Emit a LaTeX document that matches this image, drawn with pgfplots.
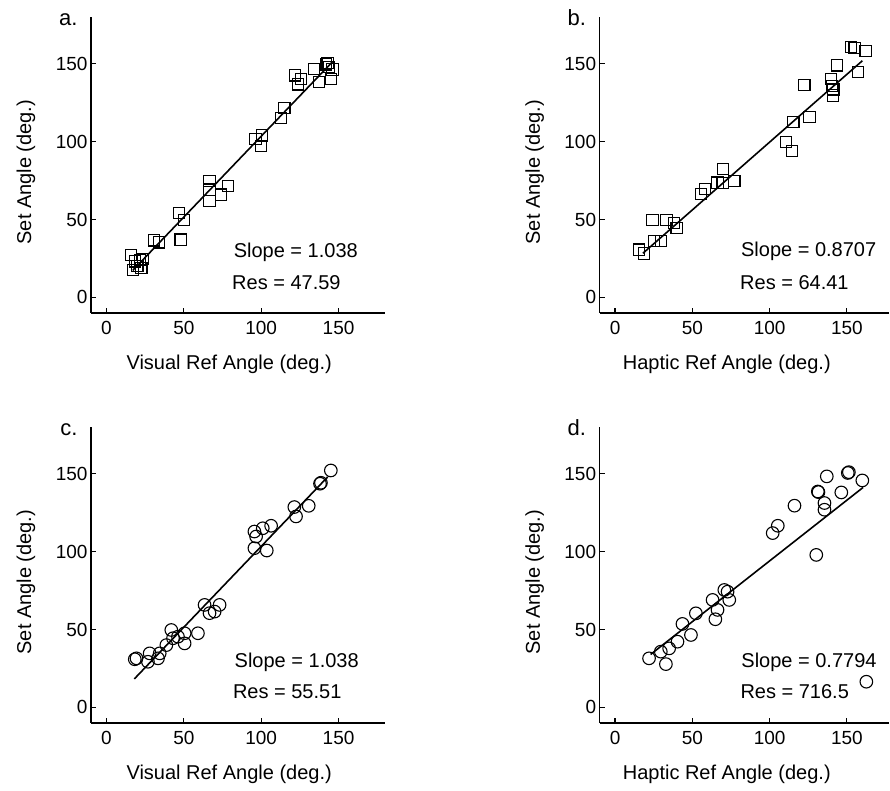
\documentclass[border=0pt]{standalone}
\usepackage{pgfplots}
\pgfplotsset{compat=1.18}
\usepackage{fontspec}
\setmainfont{Liberation Sans}

\tikzset{
 ann/.style={anchor=base west, font=\fontsize{20bp}{23bp}\selectfont},
 plab/.style={anchor=base east, font=\fontsize{22bp}{25bp}\selectfont, xshift=-10bp, yshift=-9bp},
}
\pgfplotsset{
 panel/.style={
  scale only axis, width=294bp, height=296bp,
  xmin=-10, xmax=180, ymin=-10, ymax=180,
  axis x line=bottom, axis y line=left,
  axis line style={-, line width=1.4bp},
  tick align=inside, major tick length=5bp,
  tick style={line width=1.2bp, black},
  xtick={0,50,100,150}, ytick={0,50,100,150},
  ticklabel style={font=\fontsize{19bp}{22bp}\selectfont},
  xticklabel style={yshift=-5bp},
  /pgf/number format/assume math mode=true,
  label style={font=\fontsize{20bp}{23bp}\selectfont},
  xlabel style={at={(axis description cs:0.47,0)}, anchor=center, yshift=-51bp},
  ylabel style={at={(axis description cs:0,0.476)}, anchor=center, rotate=0, yshift=65bp},
  ylabel={Set Angle (deg.)},
  clip=false,
 },
 rpanel/.style={panel, width=289bp, xmax=177,
  xlabel style={at={(axis description cs:0.44,0)}}},
 sq/.style={only marks, mark=square, mark size=5.6bp, mark options={line width=1.1bp, black, fill=none}},
 ci/.style={only marks, mark=o, mark size=6.3bp, mark options={line width=1.1bp, black, fill=none}},
 fit/.style={no marks, line width=1.6bp, black},
}

\begin{document}
\begin{tikzpicture}
\path[use as bounding box] (0,0) rectangle (890bp,791bp);

% ---------- a ----------
\begin{axis}[panel, at={(91bp,478bp)}, anchor=south west,
  xlabel={Visual Ref Angle (deg.)}]
\addplot[sq] coordinates {
(16,27.4) (17.2,17.8) (18.3,23.1) (20,20) (21.5,24.2) (23.6,24.7) (22.6,18.9)
(30.7,36.6) (33.9,35.3) (47.9,37.1) (46.9,54.2) (49.9,49.5)
(66.6,74.6) (66.6,69.2) (66.6,61.7) (74.1,66) (78.4,71.4)
(96.3,101.8) (99.9,97) (100.6,103.9)
(112.8,115.3) (115,121.7)
(122,142.5) (123.6,136.7) (125.7,140)
(134.3,146.8) (137.5,138.2) (141.8,149.6) (142.9,150.6) (145,140) (146.1,146.3) (144,148)
};
\addplot[fit] coordinates {(17,17.35) (146,151.2)};
\node[ann] at (axis cs:80,25.3) {Slope = 1.038};
\node[ann] at (axis cs:79,5.4) {Res = 47.59};
\node[plab] at (rel axis cs:0,1) {a.};
\end{axis}

% ---------- b ----------
\begin{axis}[rpanel, at={(599.6bp,478bp)}, anchor=south west,
  xlabel={Haptic Ref Angle (deg.)}]
\addplot[sq] coordinates {
(15.6,30.7) (18.8,28.2) (24.2,49.6) (25.3,36.1) (29.6,36.1) (33.3,49.6) (38.3,47.9) (39.8,44.7)
(55.5,66.2) (58.4,69.8) (66.3,73.7) (69.6,73.3) (70,82.3) (77.2,74.8)
(110.7,99.9) (114.5,94.1) (115.4,112.4) (125.8,115.6) (122.5,136.5)
(139.8,140.3) (140.5,135.6) (140.9,129.6) (141.3,133.5) (143.7,148.9)
(152.8,160.8) (155,160.1) (162.1,158) (157.1,144.6)
};
\addplot[fit] coordinates {(18,28.3) (160,151.9)};
\node[ann] at (axis cs:79.3,26.4) {Slope = 0.8707};
\node[ann] at (axis cs:78.7,5.4) {Res = 64.41};
\node[plab] at (rel axis cs:0,1) {b.};
\end{axis}

% ---------- c ----------
\begin{axis}[panel, at={(91bp,68bp)}, anchor=south west,
  xlabel={Visual Ref Angle (deg.)}]
\addplot[ci] coordinates {
(18.3,30.9) (19.4,31.5) (26.8,29.3) (27.9,34.7) (33.3,31.5) (34.4,34.7) (38.7,40)
(41.9,49.7) (43,44.4) (46.2,45.4) (50.5,41.1) (50.5,47.6) (59.1,47.6)
(63.4,65.8) (66.6,60.5) (69.9,61.5) (73.1,65.8)
(95.6,112.9) (96.7,109.7) (95.6,102.2) (101,115) (103.6,100.7) (106.4,116.6)
(121.4,128.6) (122.5,122.6) (130.7,129.4) (138,143.6) (138.6,144.2) (145,152.1)
};
\addplot[fit] coordinates {(18,18.3) (143,148.0)};
\node[ann] at (axis cs:80.6,25.5) {Slope = 1.038};
\node[ann] at (axis cs:79.5,5.8) {Res = 55.51};
\node[plab] at (rel axis cs:0,1) {c.};
\end{axis}

% ---------- d ----------
\begin{axis}[rpanel, at={(599.6bp,68bp)}, anchor=south west,
  xlabel={Haptic Ref Angle (deg.)}]
\addplot[ci] coordinates {
(22,31.5) (29.6,35.8) (32.9,27.8) (35,37.9) (40.4,42.2) (43.6,53.6) (49.1,46.5) (52.3,60.4)
(63.1,69) (64.9,56.6) (66.3,62.6) (70.7,75.4) (72.8,74.3) (73.9,69)
(102,111.9) (105.3,116.6) (116.1,129.5) (130.2,97.9) (131.2,138.6) (131.6,138.2)
(135.5,131.2) (135.5,126.9) (137,148.3) (146.4,138) (150.6,150.5) (151.3,151)
(160,145.7) (162.6,16.5)
};
\addplot[fit] coordinates {(23,34.0) (160.5,141.2)};
\node[ann] at (axis cs:79.5,25.5) {Slope = 0.7794};
\node[ann] at (axis cs:78.9,5.8) {Res = 716.5};
\node[plab] at (rel axis cs:0,1) {d.};
\end{axis}
\end{tikzpicture}
\end{document}
